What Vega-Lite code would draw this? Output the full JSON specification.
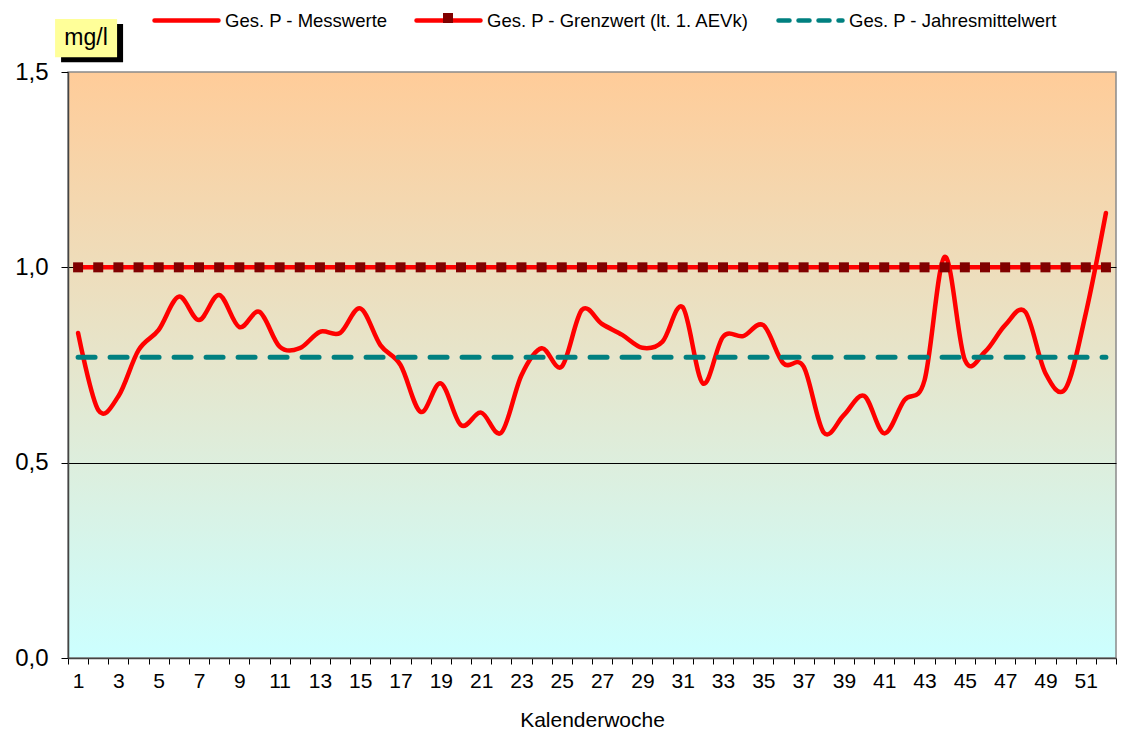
{
  "$schema": "https://vega.github.io/schema/vega-lite/v6.json",
  "width": 1048,
  "height": 586,
  "autosize": {"type": "none"},
  "padding": {"left": 68, "top": 72, "right": 22, "bottom": 79},
  "background": "white",
  "config": {
    "font": "Liberation Sans",
    "view": {
      "fill": {"gradient": "linear", "x1": 0, "y1": 0, "x2": 0, "y2": 1, "stops": [{"offset": 0, "color": "#FFCC99"}, {"offset": 1, "color": "#CCFFFF"}]},
      "stroke": "#8a8a8a",
      "strokeWidth": 1.5
    }
  },
  "data": {"values": [
    {"week": 1, "mess": 0.832, "grenz": 1, "mittel": 0.77},
    {"week": 2, "mess": 0.635, "grenz": 1, "mittel": 0.77},
    {"week": 3, "mess": 0.67, "grenz": 1, "mittel": 0.77},
    {"week": 4, "mess": 0.788, "grenz": 1, "mittel": 0.77},
    {"week": 5, "mess": 0.84, "grenz": 1, "mittel": 0.77},
    {"week": 6, "mess": 0.925, "grenz": 1, "mittel": 0.77},
    {"week": 7, "mess": 0.865, "grenz": 1, "mittel": 0.77},
    {"week": 8, "mess": 0.929, "grenz": 1, "mittel": 0.77},
    {"week": 9, "mess": 0.847, "grenz": 1, "mittel": 0.77},
    {"week": 10, "mess": 0.886, "grenz": 1, "mittel": 0.77},
    {"week": 11, "mess": 0.797, "grenz": 1, "mittel": 0.77},
    {"week": 12, "mess": 0.793, "grenz": 1, "mittel": 0.77},
    {"week": 13, "mess": 0.835, "grenz": 1, "mittel": 0.77},
    {"week": 14, "mess": 0.832, "grenz": 1, "mittel": 0.77},
    {"week": 15, "mess": 0.895, "grenz": 1, "mittel": 0.77},
    {"week": 16, "mess": 0.801, "grenz": 1, "mittel": 0.77},
    {"week": 17, "mess": 0.75, "grenz": 1, "mittel": 0.77},
    {"week": 18, "mess": 0.63, "grenz": 1, "mittel": 0.77},
    {"week": 19, "mess": 0.703, "grenz": 1, "mittel": 0.77},
    {"week": 20, "mess": 0.596, "grenz": 1, "mittel": 0.77},
    {"week": 21, "mess": 0.628, "grenz": 1, "mittel": 0.77},
    {"week": 22, "mess": 0.577, "grenz": 1, "mittel": 0.77},
    {"week": 23, "mess": 0.724, "grenz": 1, "mittel": 0.77},
    {"week": 24, "mess": 0.793, "grenz": 1, "mittel": 0.77},
    {"week": 25, "mess": 0.746, "grenz": 1, "mittel": 0.77},
    {"week": 26, "mess": 0.891, "grenz": 1, "mittel": 0.77},
    {"week": 27, "mess": 0.855, "grenz": 1, "mittel": 0.77},
    {"week": 28, "mess": 0.827, "grenz": 1, "mittel": 0.77},
    {"week": 29, "mess": 0.794, "grenz": 1, "mittel": 0.77},
    {"week": 30, "mess": 0.81, "grenz": 1, "mittel": 0.77},
    {"week": 31, "mess": 0.898, "grenz": 1, "mittel": 0.77},
    {"week": 32, "mess": 0.703, "grenz": 1, "mittel": 0.77},
    {"week": 33, "mess": 0.822, "grenz": 1, "mittel": 0.77},
    {"week": 34, "mess": 0.824, "grenz": 1, "mittel": 0.77},
    {"week": 35, "mess": 0.852, "grenz": 1, "mittel": 0.77},
    {"week": 36, "mess": 0.754, "grenz": 1, "mittel": 0.77},
    {"week": 37, "mess": 0.746, "grenz": 1, "mittel": 0.77},
    {"week": 38, "mess": 0.577, "grenz": 1, "mittel": 0.77},
    {"week": 39, "mess": 0.622, "grenz": 1, "mittel": 0.77},
    {"week": 40, "mess": 0.671, "grenz": 1, "mittel": 0.77},
    {"week": 41, "mess": 0.575, "grenz": 1, "mittel": 0.77},
    {"week": 42, "mess": 0.66, "grenz": 1, "mittel": 0.77},
    {"week": 43, "mess": 0.711, "grenz": 1, "mittel": 0.77},
    {"week": 44, "mess": 1.027, "grenz": 1, "mittel": 0.77},
    {"week": 45, "mess": 0.763, "grenz": 1, "mittel": 0.77},
    {"week": 46, "mess": 0.784, "grenz": 1, "mittel": 0.77},
    {"week": 47, "mess": 0.852, "grenz": 1, "mittel": 0.77},
    {"week": 48, "mess": 0.886, "grenz": 1, "mittel": 0.77},
    {"week": 49, "mess": 0.729, "grenz": 1, "mittel": 0.77},
    {"week": 50, "mess": 0.69, "grenz": 1, "mittel": 0.77},
    {"week": 51, "mess": 0.882, "grenz": 1, "mittel": 0.77},
    {"week": 52, "mess": 1.139, "grenz": 1, "mittel": 0.77}
  ]},
  "encoding": {
    "x": {
      "field": "week", "type": "ordinal",
      "scale": {"type": "band", "paddingInner": 0, "paddingOuter": 0},
      "axis": {
        "title": "Kalenderwoche", "titleFontSize": 21, "titleFontWeight": "normal", "titleColor": "black", "titlePadding": 18,
        "labelAngle": 0, "labelFontSize": 21, "labelColor": "black", "labelPadding": 6, "labelOverlap": false,
        "labelExpr": "datum.value % 2 == 1 ? datum.label : ''",
        "tickBand": "extent", "tickSize": 6, "tickColor": "black",
        "domainColor": "#444444", "domainWidth": 1.5, "grid": false
      }
    }
  },
  "layer": [
    {
      "mark": {"type": "line", "strokeWidth": 4.5, "interpolate": "cardinal", "strokeCap": "round"},
      "encoding": {
        "y": {
          "field": "mess", "type": "quantitative",
          "scale": {"domain": [0, 1.5], "nice": false, "zero": true},
          "axis": {
            "title": null, "values": [0, 0.5, 1, 1.5],
            "labelExpr": "replace(format(datum.value, '.1f'), '.', ',')",
            "labelFontSize": 24, "labelColor": "black", "labelPadding": 13,
            "tickSize": 7, "tickColor": "black",
            "domainColor": "#444444", "domainWidth": 1.5,
            "grid": true,
            "gridColor": {"condition": {"test": "datum.value == 0.5 || datum.value == 1", "value": "black"}, "value": "transparent"},
            "gridWidth": 1
          }
        },
        "color": {
          "datum": "Ges. P - Messwerte",
          "scale": {"domain": ["Ges. P - Messwerte", "Ges. P - Grenzwert (lt. 1. AEVk)", "Ges. P - Jahresmittelwert"], "range": ["#FF0000", "#FF0000", "#008080"]},
          "legend": {
            "orient": "none", "legendX": 84, "legendY": -86, "direction": "horizontal", "title": null,
            "symbolType": "M-1,0H1", "symbolSize": 4096, "symbolStrokeWidth": 4.5,
            "labelFontSize": 18.5, "labelColor": "black", "labelOffset": 4, "columnPadding": 19, "labelLimit": 0,
            "encode": {"symbols": {"update": {
              "strokeDash": {"signal": "datum.value == 'Ges. P - Jahresmittelwert' ? [11, 9] : [1, 0]"},
              "strokeCap": {"value": "round"},
              "fill": {"value": "transparent"}
            }}}
          }
        }
      }
    },
    {
      "mark": {"type": "line", "strokeWidth": 4.5},
      "encoding": {
        "y": {"field": "grenz", "type": "quantitative"},
        "color": {"datum": "Ges. P - Grenzwert (lt. 1. AEVk)"}
      }
    },
    {
      "mark": {"type": "point", "filled": true, "opacity": 1, "color": "#800000", "size": 100},
      "encoding": {
        "y": {"field": "grenz", "type": "quantitative"},
        "shape": {
          "datum": "marker",
          "scale": {"domain": ["marker"], "range": ["square"]},
          "legend": {
            "orient": "none", "legendX": 375, "legendY": -59, "title": null,
            "labelExpr": "''", "symbolSize": 100, "symbolFillColor": "#800000", "symbolStrokeWidth": 0, "symbolOpacity": 1
          }
        }
      }
    },
    {
      "mark": {"type": "line", "strokeWidth": 5, "strokeDash": [17, 15], "strokeCap": "round"},
      "encoding": {
        "y": {"field": "mittel", "type": "quantitative"},
        "color": {"datum": "Ges. P - Jahresmittelwert"}
      }
    },
    {
      "data": {"values": [{"label": "mg/l"}]},
      "layer": [
        {
          "mark": {"type": "rect", "color": "black", "width": 62, "xOffset": 14, "yOffset": 5, "y2Offset": 5},
          "encoding": {"x": {"datum": 1}, "y": {"datum": 1.6355}, "y2": {"datum": 1.538}}
        },
        {
          "mark": {"type": "rect", "color": "#FFFF99", "width": 62, "xOffset": 8},
          "encoding": {"x": {"datum": 1}, "y": {"datum": 1.6355}, "y2": {"datum": 1.538}}
        },
        {
          "mark": {"type": "text", "fontSize": 23, "color": "black", "xOffset": 8, "align": "center", "baseline": "middle"},
          "encoding": {"x": {"datum": 1}, "y": {"datum": 1.587}, "text": {"field": "label"}}
        }
      ]
    }
  ]
}
